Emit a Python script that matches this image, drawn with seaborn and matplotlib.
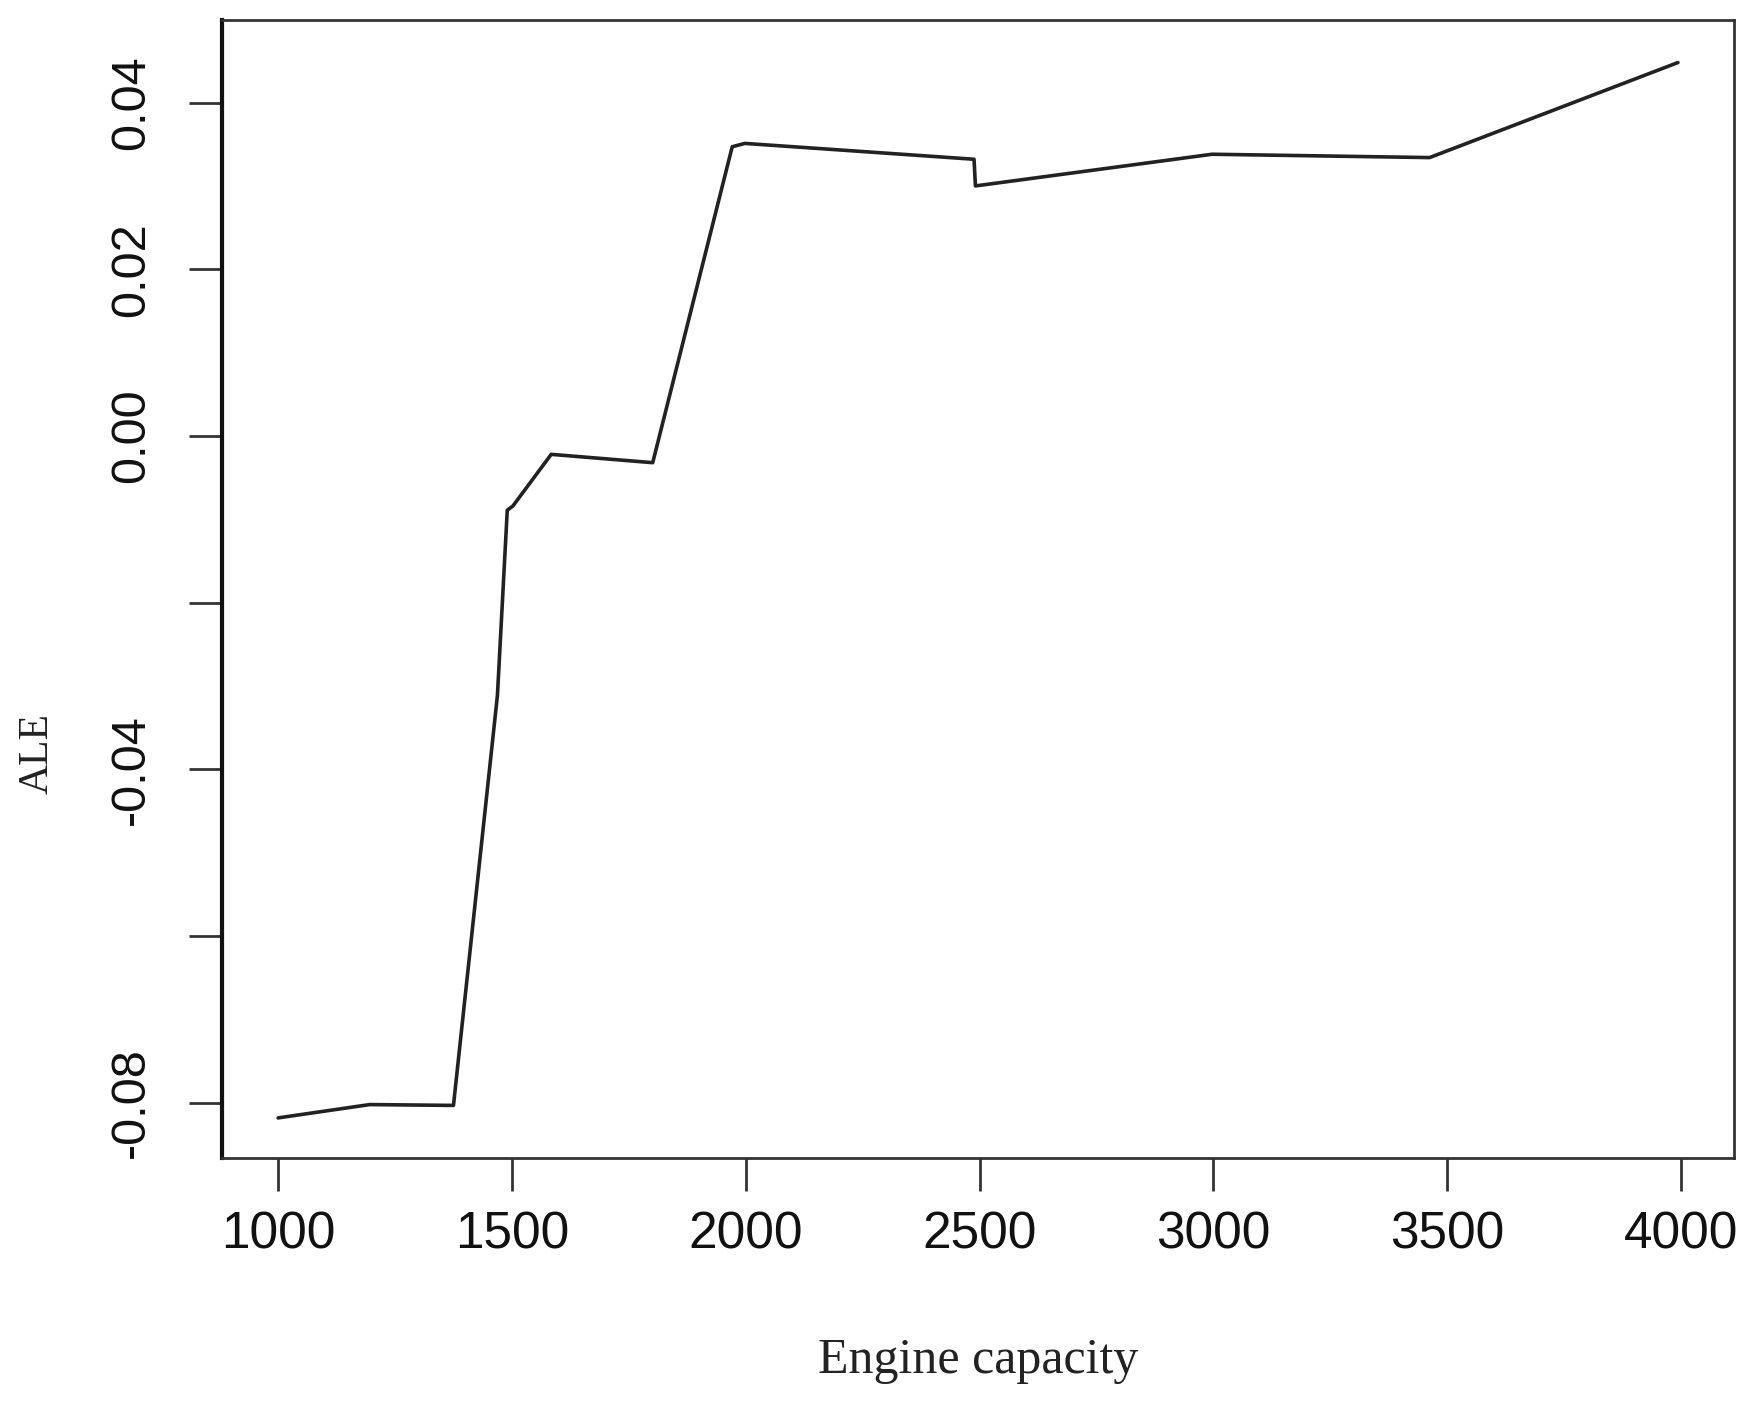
import matplotlib
matplotlib.use("Agg")
import matplotlib.pyplot as plt
import seaborn as sns
import pandas as pd

# Data
engine_capacity = [1000, 1196, 1375, 1469, 1490, 1502, 1584, 1801, 1971, 1998,
                   2488, 2491, 2997, 3462, 3993]
ale_values = [-0.0818, -0.0802, -0.0803, -0.0311, -0.0089, -0.0084, -0.0022,
              -0.0032, 0.0347, 0.0351, 0.0332, 0.0300, 0.0338, 0.0334, 0.0448]
x_ticks = [1000, 1500, 2000, 2500, 3000, 3500, 4000]
y_ticks = [-0.08, -0.06, -0.04, -0.02, 0.00, 0.02, 0.04]
y_tick_labels = ["-0.08", "", "-0.04", "", "0.00", "0.02", "0.04"]

sns.set_theme(style="white")
plt.rcParams["axes.unicode_minus"] = False
plt.rcParams["font.family"] = ["Liberation Sans", "DejaVu Sans"]

df = pd.DataFrame({"Engine capacity": engine_capacity, "ALE": ale_values})

fig = plt.figure(figsize=(17.56, 14.01), dpi=100)
ax = fig.add_axes([0.1264, 0.1735, 0.9875 - 0.1264, 0.9857 - 0.1735])

sns.lineplot(data=df, x="Engine capacity", y="ALE", ax=ax, color="#222222",
             linewidth=2.6, estimator=None, sort=False)

ax.set_xlim(880, 4113)
ax.set_ylim(-0.0866, 0.0499)
ax.set_xticks(x_ticks)
ax.set_xticklabels([str(v) for v in x_ticks], fontsize=37, color="#111111")
ax.set_yticks(y_ticks)
ax.set_yticklabels(y_tick_labels, fontsize=35, color="#111111",
                   rotation=90, va="center")

ax.tick_params(axis="both", direction="out", length=24, width=2,
               color="#333333", bottom=True, left=True)
ax.tick_params(axis="x", pad=14)
ax.tick_params(axis="y", pad=25)

for s in ax.spines.values():
    s.set_visible(True)
    s.set_color("#333333")
    s.set_linewidth(2)
ax.spines["left"].set_linewidth(3)
ax.spines["left"].set_color("#111111")

ax.set_xlabel("Engine capacity", family=["Liberation Serif", "DejaVu Serif"],
              fontsize=36, labelpad=56, color="#222222")
ax.set_ylabel("ALE", family=["Liberation Serif", "DejaVu Serif"],
              fontsize=30, color="#222222", va="center")
ax.yaxis.set_label_coords(-0.1223, 0.355)
ax.grid(False)

fig.savefig("out.png", dpi=100, facecolor="white")
